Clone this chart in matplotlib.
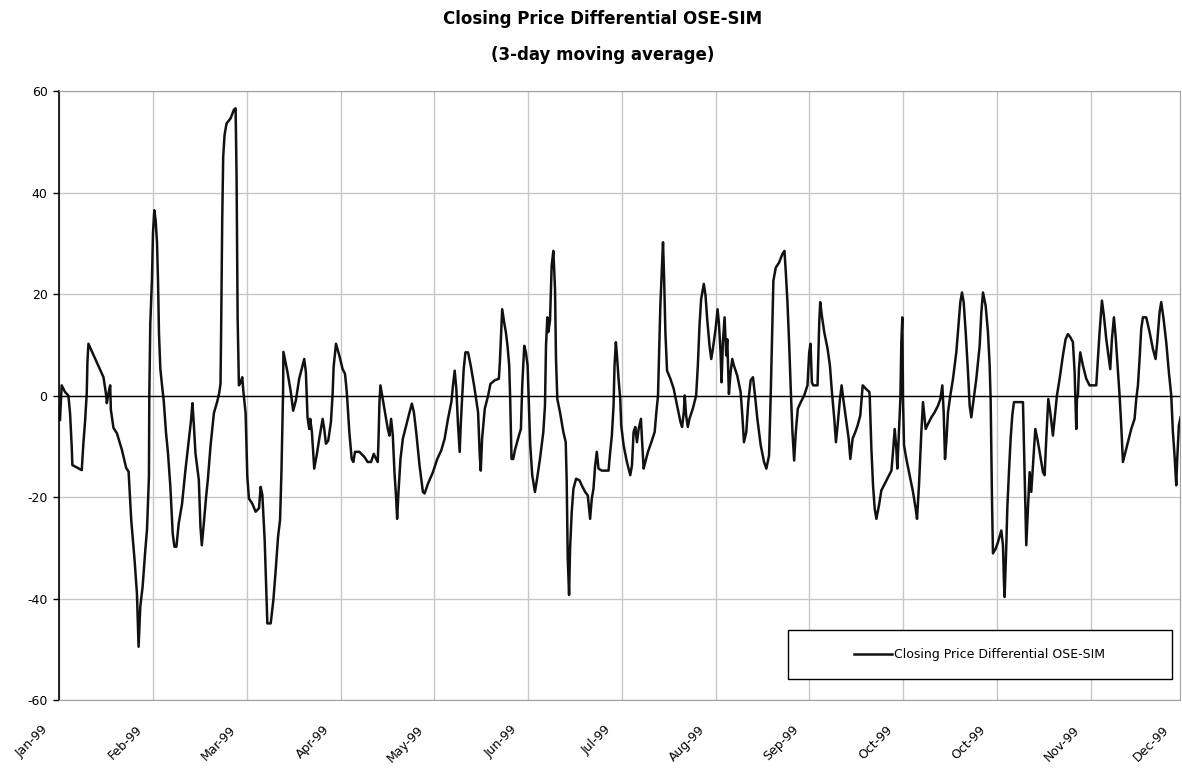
import matplotlib.pyplot as plt
import matplotlib.transforms as mtransforms
from matplotlib.patches import Rectangle

plt.rcParams['axes.unicode_minus'] = False

# trading days counted from the first session of 1999 (fractional where the
# line turns more than once inside a day as read off the chart)
jan_mar_day = [0.15, 0.52, 1.27, 2.02, 2.40, 2.77, 2.92, 5.02, 5.39, 5.77,
               6.14, 6.29, 6.52, 9.89, 10.49, 10.64, 11.01, 11.39, 11.54, 12.13,
               12.88, 14.01, 14.98, 15.51, 16.10, 16.85, 17.38, 17.60, 17.75, 18.13,
               18.65, 19.25, 19.63, 20.07, 20.15, 20.37, 20.75, 20.97, 21.27, 21.57,
               21.87, 22.10, 22.32, 22.62, 23.00, 23.37, 23.90, 24.34, 24.87, 25.39,
               25.77, 26.22, 26.74, 27.49, 28.24, 28.99, 29.51, 29.81, 30.11, 30.49,
               31.24, 31.61, 31.91, 32.36, 32.88, 33.26, 33.86, 34.61, 35.36, 35.81,
               36.10, 36.25, 36.48, 36.70, 37.00, 37.45, 38.35, 39.10, 39.48, 39.70,
               39.93, 40.22, 40.60, 40.97, 41.20, 41.72, 42.10, 42.47, 43.22, 43.97,
               44.72, 45.09, 45.47, 45.99, 46.37, 46.59, 47.34, 47.94, 48.46, 48.99,
               49.44, 49.74, 50.11, 50.19]
jan_mar_diff = [-4.8, 2.0, 0.7, 0.0, -3.5, -10, -13.7, -14.7, -9.4, -5,
                0.5, 6.6, 10.2, 3.6, 0, -1.5, 0.5, 2, -2.8, -6.4,
                -7.4, -10.7, -14.3, -15, -24.5, -32.4, -39, -45.6, -49.5, -41.6,
                -37.7, -30.5, -26.5, -16, 0, 14.1, 23, 31.9, 36.5, 34.5,
                30.3, 22.7, 12.2, 5.3, 2, -0.9, -7.4, -11.4, -18, -27.2,
                -29.8, -29.8, -25.2, -21.3, -14.7, -8.8, -4.8, -1.5, -5.5, -11.4,
                -16.6, -25.9, -29.5, -25.2, -19.9, -16.6, -10, -3.5, -1.2, 0.5,
                2.3, 13.8, 34.5, 47, 51.3, 53.6, 54.6, 56.3, 56.6, 42.8,
                15.5, 2, 2.6, 3.6, 1, -3.5, -16, -20.3, -21.3, -22.9,
                -22.2, -18, -19.6, -28.5, -39, -44.9, -44.9, -40.3, -34.4, -27.8,
                -24.5, -15.3, 0.5, 8.6]

mar_jun_day = [51.10, 51.84, 52.37, 52.97, 53.72, 54.47, 54.85, 55.22, 55.59, 55.97,
               56.19, 56.57, 57.09, 57.69, 58.22, 58.97, 59.33, 59.71, 60.23, 60.83,
               61.21, 61.43, 61.96, 62.70, 63.45, 63.98, 64.35, 64.58, 64.95, 65.48,
               65.85, 66.23, 67.20, 68.32, 69.07, 69.82, 70.42, 70.95, 71.32, 71.47,
               71.69, 71.92, 72.44, 73.04, 73.57, 73.94, 74.31, 74.69, 75.06, 75.44,
               75.66, 75.96, 76.41, 76.94, 77.69, 78.44, 78.96, 79.41, 79.93, 80.68,
               81.43, 81.81, 82.55, 83.68, 84.65, 85.55, 86.30, 87.05, 87.80, 88.17,
               88.55, 88.92, 89.30, 89.67, 89.90, 90.20, 90.57, 90.95, 91.54, 92.14,
               92.89, 93.79, 94.16, 94.39, 94.69, 95.29, 96.04, 96.56, 97.54, 98.44,
               98.67, 98.89, 99.19, 99.63, 100.01, 100.38, 100.76, 100.98, 101.28, 101.66,
               102.03, 102.93, 103.38, 103.68, 104.13, 104.50, 104.88, 105.17, 105.47, 105.92,
               106.52, 106.90, 107.65, 108.40, 108.77, 109.00, 109.30, 109.52, 109.90, 110.27,
               110.65, 111.02, 111.24, 111.54, 112.14, 112.89, 113.42, 113.64, 113.87, 114.17,
               114.39, 114.76, 115.14, 115.74, 116.49, 117.01]
mar_jun_diff = [4.6, 0.7, -3, -1, 3.3, 5.9, 7.2, 4.6, -4.3, -6.6,
                -4.6, -7.2, -14.4, -11.5, -8.5, -4.6, -6.6, -9.5, -8.9, -5.2,
                0.3, 5.6, 10.2, 7.9, 5.2, 4.3, 1, -2, -7.2, -12.5,
                -13.1, -11.1, -11.1, -12.1, -13.1, -13.1, -11.5, -12.5, -13.1, -9.2,
                -1.6, 2, -0.7, -3.9, -6.6, -7.9, -4.6, -7.9, -15.1, -20.3,
                -24.3, -19, -12.5, -8.5, -5.9, -3.3, -1.6, -3.3, -7.2, -13.8,
                -19, -19.3, -17.4, -15.1, -12.5, -10.8, -8.5, -4.6, -1.3, 2,
                4.9, 1.3, -5.9, -11.1, -5.9, -0.7, 5.2, 8.5, 8.5, 5.9,
                2, -3.3, -11.8, -14.8, -8.5, -2.6, 0, 2.3, 3, 3.3,
                6.6, 11.1, 17, 14.4, 12.5, 9.8, 5.9, -0.7, -12.5, -12.5,
                -10.8, -7.9, -6.6, 2, 9.8, 8.5, 5.9, -2, -9.8, -15.7,
                -19, -17, -12.5, -7.2, -2, 9.8, 15.4, 12.5, 14.8, 25.6,
                28.5, 21, 7.2, -0.7, -3.3, -7.2, -9.2, -17, -32.1, -39.3,
                -30.2, -23, -18.4, -16.4, -16.7, -17.7]

jun_sep_day = [117.76, 118.36, 118.88, 119.26, 119.63, 120.01, 120.38, 120.76, 121.51, 123.01,
               123.38, 123.75, 124.13, 124.35, 124.65, 124.95, 125.25, 125.63, 125.85, 126.38,
               127.12, 127.87, 128.25, 128.62, 129.00, 129.37, 129.75, 130.27, 130.49, 130.87,
               131.24, 131.84, 132.59, 133.34, 133.72, 134.09, 134.39, 134.61, 134.99, 135.21,
               135.44, 135.74, 136.11, 136.86, 137.61, 138.36, 139.11, 139.48, 139.86, 140.08,
               140.38, 140.76, 141.13, 141.88, 142.63, 143.01, 143.38, 143.75, 144.35, 144.73,
               145.10, 145.63, 146.01, 146.38, 146.98, 147.43, 147.72, 148.10, 148.32, 148.62,
               149.00, 149.37, 149.60, 149.97, 150.35, 150.72, 151.09, 151.84, 152.59, 152.97,
               153.34, 153.86, 154.31, 154.84, 155.36, 155.81, 156.34, 157.09, 157.84, 158.36,
               158.96, 159.33, 159.71, 159.93, 160.46, 161.21, 161.96, 162.41, 162.71, 163.08,
               163.45, 163.83, 164.20, 164.58, 164.95, 165.40, 166.07, 166.82, 167.57, 167.95,
               168.25, 168.55, 168.85, 169.82, 170.20, 170.42, 170.79, 171.32, 172.07, 172.59,
               173.04, 173.57, 173.94, 174.31, 174.84, 175.21, 175.59, 176.19, 176.79, 177.16,
               177.68, 178.28, 178.80, 179.40, 179.93, 180.68, 181.42]
jun_sep_diff = [-19, -19.7, -24.3, -20.3, -18.4, -13.8, -11.1, -14.4, -14.8, -14.8,
                -11.1, -7.9, -2, 5.9, 10.5, 7.2, 3.3, -0.7, -5.9, -9.8,
                -13.1, -15.7, -13.8, -7.2, -6.2, -9.2, -6.6, -4.6, -8.5, -14.4,
                -13.1, -11.1, -9.2, -7.2, -3.3, 0, 10.5, 17.7, 25.6, 30.2,
                23.6, 12.5, 4.9, 3.3, 1.3, -2, -5.2, -6.2, -3.3, 0,
                -3.9, -6.2, -4.6, -2.6, 0, 5.9, 13.8, 19, 22, 19.7,
                15.1, 9.8, 7.2, 9.2, 13.1, 17, 14.4, 8.5, 2.6, 10.5,
                15.4, 7.9, 11.1, 0.3, 4.6, 7.2, 5.9, 3.9, 0.7, -3.9,
                -9.2, -7.2, -1.3, 3, 3.6, 0, -4.6, -9.8, -13.1, -14.4,
                -11.8, 0, 13.8, 22.6, 25.2, 26.2, 27.9, 28.5, 24.3, 18.4,
                10.5, 1, -7.2, -12.8, -7.2, -2.6, -1.3, 0, 2, 8.5,
                10.2, 2.6, 2, 2, 14.4, 18.4, 15.7, 12.5, 9.2, 5.9,
                0.7, -4.6, -9.2, -5.9, -0.7, 2, -0.7, -4.6, -8.5, -12.5,
                -8.5, -7.2, -5.9, -3.9, 2, 1.3, 0.7]

sep_dec_day = [181.50, 181.88, 182.25, 182.62, 183.00, 183.59, 184.11, 184.86, 185.63, 186.37,
               186.72, 187.10, 187.47, 187.69, 187.99, 188.37, 188.59, 188.81, 188.96, 189.19,
               189.71, 190.45, 191.20, 191.80, 192.10, 192.54, 193.07, 193.44, 193.66, 194.04,
               194.56, 195.31, 196.05, 196.80, 197.32, 197.77, 198.07, 198.37, 198.66, 199.04,
               199.56, 200.16, 200.90, 201.43, 201.80, 202.17, 202.55, 203.00, 203.52, 203.89,
               204.26, 204.79, 205.38, 206.13, 206.51, 206.88, 207.47, 207.99, 208.37, 208.59,
               208.89, 209.11, 209.71, 210.23, 210.98, 211.35, 211.57, 211.72, 212.10, 212.32,
               212.69, 213.07, 213.44, 213.81, 215.83, 216.20, 216.57, 216.95, 217.32, 217.69,
               218.07, 218.59, 219.04, 219.56, 220.31, 220.68, 221.05, 221.50, 221.95, 222.54,
               222.92, 223.44, 224.04, 224.78, 225.38, 225.90, 226.43, 227.02, 227.40, 227.77,
               227.92, 228.14, 228.37, 228.66, 229.26, 230.01, 230.75, 232.25, 232.62, 232.99,
               233.52, 233.96, 234.49, 235.08, 235.38, 235.75, 236.20, 236.57, 236.87, 237.10,
               237.47, 237.84, 238.22, 238.59, 239.34, 240.08, 240.83, 241.20, 241.58, 241.95,
               242.32, 242.69, 243.44, 244.19, 244.93, 245.53, 245.90, 246.43, 246.80, 247.32,
               247.92, 248.51, 249.04, 249.41, 249.78, 250.16, 250.38, 250.75, 251.12]
sep_dec_diff = [0, -10.5, -17.7, -22.3, -24.3, -21.6, -18.7, -17.4, -16.1, -14.8,
                -11.1, -6.6, -10.5, -14.4, -8.5, -0.7, 10.5, 15.4, -0.7, -9.8,
                -12.5, -15.7, -19, -22.3, -24.3, -17.7, -7.2, -1.3, -3.3, -6.6,
                -5.6, -4.3, -3.3, -2, -0.7, 2, -3.3, -12.5, -9.2, -3.3,
                0, 3.3, 8.5, 14.4, 18.4, 20.3, 18.4, 12.5, 4.6, -2,
                -4.3, -0.7, 3.3, 9.8, 16.4, 20.3, 17.7, 12.5, 5.9, -0.7,
                -20.3, -31.1, -30.2, -28.9, -26.6, -29.5, -36.7, -39.7, -29.5, -22.3,
                -15.1, -8.5, -3.9, -1.3, -1.3, -15.7, -29.5, -22.3, -15.1, -19,
                -13.8, -6.6, -8.5, -11.1, -15.1, -15.7, -8.5, -0.7, -3.3, -7.9,
                -4.6, 0, 3.3, 7.9, 11.1, 12.1, 11.5, 10.5, 4.6, -6.6,
                -0.7, 0, 5.2, 8.5, 5.9, 3.3, 2, 2, 7.2, 12.5,
                18.7, 15.7, 11.1, 7.2, 5.2, 11.1, 15.4, 11.8, 7.9, 4.6,
                0, -5.9, -13.1, -11.8, -9.2, -6.6, -4.6, -0.7, 2, 7.2,
                13.1, 15.4, 15.4, 12.5, 9.2, 7.2, 10.5, 16.4, 18.4, 15.1,
                10.5, 4.6, 0, -7.2, -11.8, -17.7, -12.5, -5.9, -4.3]

tick_days = [0, 21, 42, 63, 84, 105, 126, 147, 168, 189, 210, 231, 251]
tick_labels = ['Jan-99', 'Feb-99', 'Mar-99', 'Apr-99', 'May-99', 'Jun-99', 'Jul-99',
               'Aug-99', 'Sep-99', 'Oct-99', 'Oct-99', 'Nov-99', 'Dec-99']
y_ticks = [-60, -40, -20, 0, 20, 40, 60]

days = jan_mar_day + mar_jun_day + jun_sep_day + sep_dec_day
diff = jan_mar_diff + mar_jun_diff + jun_sep_diff + sep_dec_diff
assert len(days) == len(diff)

fig = plt.figure(figsize=(11.82, 7.70), dpi=100)
ax = fig.add_axes([0.0502, 0.0909, 0.9481, 0.7909])

ax.plot(days, diff, color='#111111', lw=1.8, label='Closing Price Differential OSE-SIM')
ax.axhline(0, color='black', lw=1.0)

ax.set_xlim(0, 251)
ax.set_ylim(-60, 60)
ax.set_yticks(y_ticks)
ax.set_xticks(tick_days)
ax.set_xticklabels(tick_labels, rotation=45, ha='right', va='center',
                   rotation_mode='anchor', fontsize=9)
ax.grid(True, color='#c8c8c8', lw=1)
ax.get_xgridlines()[-1].set_visible(False)
ax.set_axisbelow(True)

for side in ['top', 'right', 'bottom']:
    ax.spines[side].set_color('#a0a0a0')
ax.spines['left'].set_color('black')
ax.spines['left'].set_linewidth(1.2)
ax.tick_params(axis='x', length=0, pad=20)
ax.tick_params(axis='y', length=4.5, width=1, pad=4, labelsize=9)

shift = mtransforms.ScaledTranslation(-0.13, 0, fig.dpi_scale_trans)
for lab in ax.get_xticklabels():
    lab.set_transform(lab.get_transform() + shift)

# legend box (wider than its contents, like the original)
ax.add_patch(Rectangle((0.650, 0.0345), 0.343, 0.0805, transform=ax.transAxes,
                       facecolor='white', edgecolor='black', lw=1, zorder=4))
ax.legend(loc='center', bbox_to_anchor=(0.8215, 0.0748), frameon=False,
          handlelength=3, handletextpad=0.2, fontsize=9)

fig.text(0.510, 1 - 24 / 770, 'Closing Price Differential OSE-SIM', ha='center',
         va='baseline', fontsize=12, fontweight='bold')
fig.text(0.510, 1 - 60.5 / 770, '(3-day moving average)', ha='center',
         va='baseline', fontsize=12, fontweight='bold')

fig.savefig('out.png', dpi=100)
